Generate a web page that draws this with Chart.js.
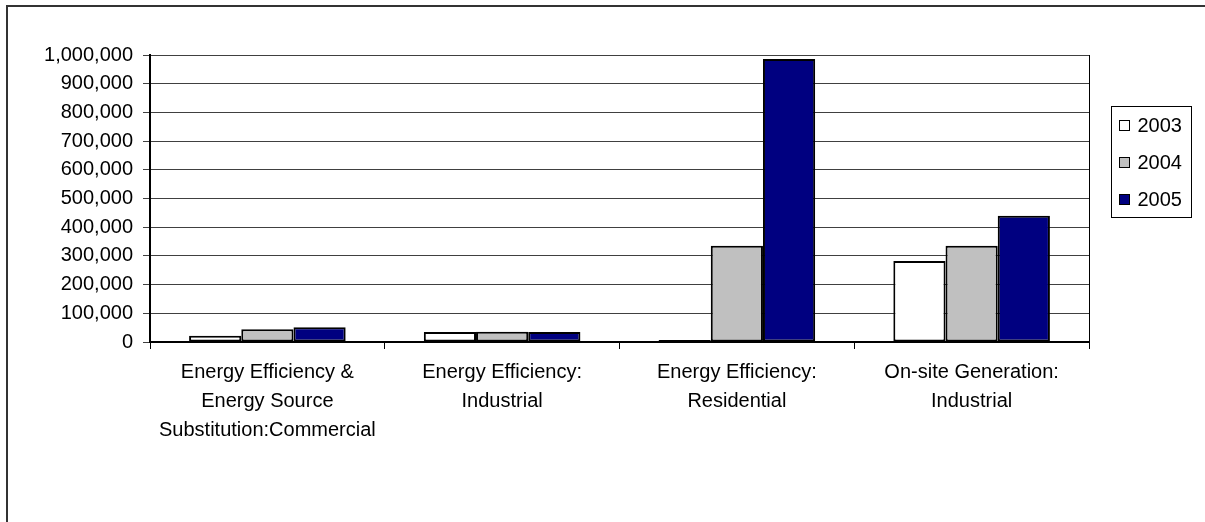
<!DOCTYPE html>
<html>
<head>
<meta charset="utf-8">
<script src="https://cdn.jsdelivr.net/npm/chart.js@4.4.1/dist/chart.umd.min.js"></script>
<style>
  html, body { margin: 0; padding: 0; background: #fff; }
  canvas { display: block; }
</style>
</head>
<body>
<canvas id="chart" width="1205" height="522"></canvas>
<script>
// ── DATA ──
const categories = [
  ['Energy Efficiency &', 'Energy Source', 'Substitution:Commercial'],
  ['Energy Efficiency:', 'Industrial'],
  ['Energy Efficiency:', 'Residential'],
  ['On-site Generation:', 'Industrial'],
];
const seriesNames = ['2003', '2004', '2005'];
const values2003  = [22000, 35000, 7000, 282000];
const values2004  = [44000, 36000, 335000, 335000];
const values2005  = [51000, 35000, 986000, 440000];
const seriesFill  = ['#FFFFFF', '#C0C0C0', '#000080'];

const FONT = "'Liberation Sans', Arial, sans-serif";

// ── FRAME + PLOT BORDER ──
const framePlugin = {
  id: 'frame',
  beforeDraw(chart) {
    const { ctx } = chart;
    ctx.save();
    ctx.fillStyle = '#fff';
    ctx.fillRect(0, 0, chart.width, chart.height);
    ctx.strokeStyle = '#333';
    ctx.lineWidth = 2;
    ctx.beginPath();
    ctx.moveTo(7, chart.height + 2);
    ctx.lineTo(7, 6);
    ctx.lineTo(chart.width + 2, 6);
    ctx.stroke();
    ctx.restore();
  },
  afterDatasetsDraw(chart) {
    const { ctx, chartArea: a } = chart;
    ctx.save();
    ctx.strokeStyle = '#000';
    ctx.lineWidth = 1;
    ctx.beginPath();
    ctx.moveTo(Math.round(a.right) + 0.5, a.top);
    ctx.lineTo(Math.round(a.right) + 0.5, a.bottom);
    ctx.stroke();
    ctx.restore();
  },
};

// ── BOXED LEGEND ON THE RIGHT ──
const boxLegend = {
  id: 'boxLegend',
  afterDraw(chart) {
    const { ctx, chartArea: a } = chart;
    const x = Math.round(a.right) + 22.5;
    const y = 106.5;
    const w = 80, h = 111, rowH = 37;
    ctx.save();
    ctx.strokeStyle = '#000';
    ctx.lineWidth = 1;
    ctx.fillStyle = '#fff';
    ctx.fillRect(x, y, w, h);
    ctx.strokeRect(x, y, w, h);
    ctx.font = `20px ${FONT}`;
    ctx.textBaseline = 'middle';
    chart.data.datasets.forEach((ds, i) => {
      const cy = y + 19 + i * rowH;
      ctx.fillStyle = ds.backgroundColor;
      ctx.fillRect(x + 8, cy - 5, 10, 10);
      ctx.strokeRect(x + 8, cy - 5, 10, 10);
      ctx.fillStyle = '#000';
      ctx.fillText(ds.label, x + 26, cy + 1);
    });
    ctx.restore();
  },
};

const makeSet = (i, data) => ({
  label:           seriesNames[i],
  data,
  backgroundColor: seriesFill[i],
  borderColor:     '#000',
  borderWidth:     2,
  borderSkipped:   false,
  barPercentage:   1,
  categoryPercentage: 0.667,
});

new Chart(document.getElementById('chart'), {
  type: 'bar',
  data: {
    labels: categories,
    datasets: [
      makeSet(0, values2003),
      makeSet(1, values2004),
      makeSet(2, values2005),
    ],
  },
  options: {
    responsive: false,
    animation:  false,
    layout: { padding: { top: 55, right: 116, left: 0, bottom: 0 } },
    plugins: {
      legend:  { display: false },
      tooltip: { enabled: false },
    },
    scales: {
      x: {
        afterFit: s => { s.height = 180; },
        grid: {
          offset: true,
          drawOnChartArea: false,
          drawTicks: true,
          tickLength: 7,
          color: '#000',
        },
        border: { color: '#000', width: 2 },
        ticks: {
          color: '#000',
          padding: 9,
          maxRotation: 0,
          autoSkip: false,
          font: { family: FONT, size: 20, lineHeight: 1.45 },
        },
      },
      y: {
        min: 0,
        max: 1000000,
        afterFit: s => { s.width = 150; },
        grid: {
          color: '#404040',
          lineWidth: 1,
          tickLength: 7,
        },
        border: { color: '#000', width: 2 },
        ticks: {
          stepSize: 100000,
          color: '#000',
          padding: 10,
          font: { family: FONT, size: 20 },
          callback: v => v.toLocaleString('en-US'),
        },
      },
    },
  },
  plugins: [framePlugin, boxLegend],
});
</script>
</body>
</html>
